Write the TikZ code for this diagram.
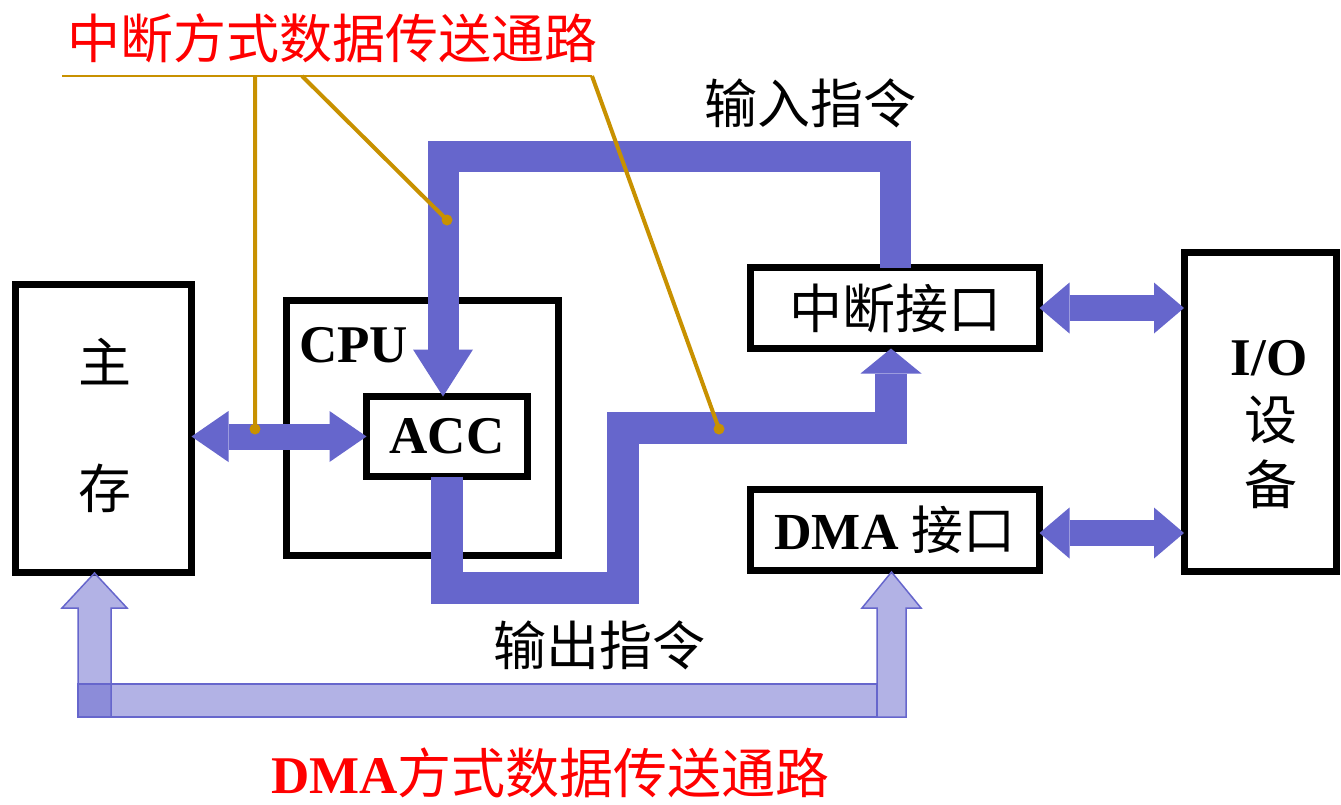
\documentclass[tikz,border=0pt]{standalone}
\usepackage{fontspec}
\setmainfont{Liberation Serif}
\newfontfamily\cjk{Noto Sans CJK SC}
\usetikzlibrary{arrows.meta}
\definecolor{busblue}{RGB}{102,102,204}
\definecolor{tagorange}{RGB}{200,145,0}

\begin{document}
\begin{tikzpicture}[x=1pt, y=-1pt,
  unitbox/.style={draw, line width=7pt, outer sep=0pt, inner sep=0pt},
  cjktext/.style={font=\fontsize{53}{60}\selectfont\cjk, inner sep=0pt},
  romtext/.style={font=\fontsize{53}{60}\selectfont\bfseries, inner sep=0pt},
  busline/.style={draw=busblue, line width=#1, line join=miter},
  duplex/.style={draw=busblue, line width=26pt, {Triangle[length=#1, width=51pt, line width=0pt]}-{Triangle[length=#1, width=51pt, line width=0pt]}},
  dmaroute/.style={draw=busblue, fill=busblue, fill opacity=0.5, line width=1.5pt, line join=miter},
  tagline/.style={draw=tagorange, line width=#1}]
\useasboundingbox (0,0) rectangle (1341,804);
\node[unitbox, minimum width=176pt, minimum height=288pt] (mem) at (103.5,428.5) {};
\node[unitbox, minimum width=272pt, minimum height=255pt] (cpu) at (422.5,428) {};
\node[unitbox, romtext, minimum width=161pt, minimum height=80pt] (acc) at (447,436.5) {ACC};
\node[unitbox, cjktext, minimum width=289pt, minimum height=81pt] (intf) at (895,308) {中断接口};
\node[unitbox, minimum width=289pt, minimum height=81pt] (dmaif) at (895,530) {\fontsize{52}{60}\selectfont\textbf{DMA} {\cjk 接口}};
\node[unitbox, minimum width=152pt, minimum height=319pt] (io) at (1260,412) {};
\node[cjktext] (mem1) at (105,362) {主};
\node[cjktext] (mem2) at (105,488) {存};
\node[romtext, anchor=base west] (cpulbl) at (299,362) {CPU};
\node[romtext, anchor=base] (iolbl) at (1269,375) {I/O};
\node[cjktext] (io1) at (1271,420) {设};
\node[cjktext] (io2) at (1271,484) {备};
\node[cjktext] (inlbl) at (810,103) {输入指令};
\node[cjktext] (outlbl) at (599,645) {输出指令};
\node[cjktext, text=red] (inttag) at (332,38) {中断方式数据传送通路};
\node[romtext, text=red, anchor=base west] (dmatag) at (271,793) {DMA{\mdseries\fontsize{54}{60}\cjk 方式数据传送通路}};
\coordinate (accin) at ([xshift=-4pt]acc.north);
\coordinate (intin) at ([xshift=-4pt]intf.south);
\coordinate (dmaout) at ([yshift=-3pt]dmaif.east);
\draw[busline=31pt, -{Triangle[length=47pt, width=60pt, line width=0pt]}] (intf.north) |- (accin |- 0,156) -- (accin);
\draw[busline=32pt, -{Triangle[length=25pt, width=61pt, line width=0pt]}] (acc.south) |- (623,588) |- (intin |- 0,428) -- (intin);
\draw[duplex=37pt] (mem.east |- acc.west) -- (acc.west);
\draw[duplex=30pt] (intf.east) -- (io.west |- intf.east);
\draw[duplex=30pt] (dmaout) -- (io.west |- dmaout);
\draw[dmaroute] (78,717) -- (78,608) -- (62,608) -- (94.5,573) -- (127,608) -- (111,608) -- (111,717) -- cycle;
\draw[dmaroute] (78,684) rectangle (877,717);
\draw[dmaroute] (877,717) -- (877,608) -- (862,608) -- (891.5,572) -- (921,608) -- (906,608) -- (906,717) -- cycle;
\coordinate (tagL) at (62,76);
\coordinate (tagM) at (302,76);
\coordinate (tagR) at (592,76);
\coordinate (dotA) at (255,429);
\coordinate (dotB) at (447,220);
\coordinate (dotC) at (719,429);
\draw[tagline=2.5pt] (tagL) -- (tagR);
\draw[tagline=4pt] (tagL -| dotA) -- (dotA) (tagM) -- (dotB) (tagR) -- (dotC);
\fill[tagorange] (dotA) circle[radius=5.5pt] (dotB) circle[radius=5.5pt] (dotC) circle[radius=5.5pt];
\end{tikzpicture}
\end{document}
